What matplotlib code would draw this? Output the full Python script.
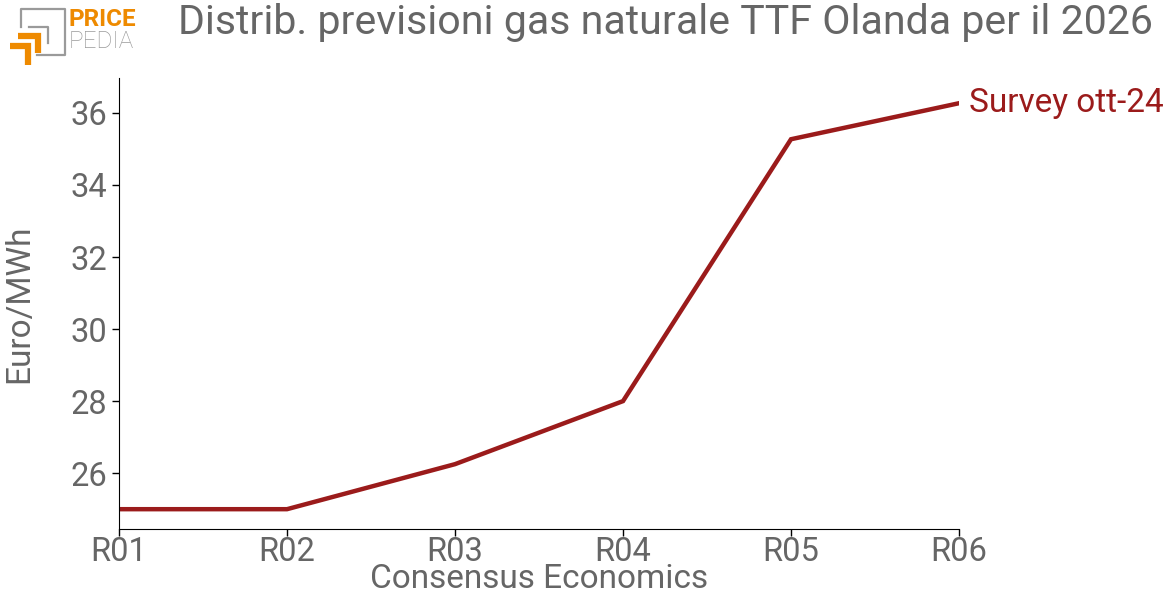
import matplotlib
matplotlib.use("Agg")
import matplotlib.pyplot as plt

# data
rounds = ["R01", "R02", "R03", "R04", "R05", "R06"]
forecast = [25.0, 25.0, 26.25, 28.0, 35.27, 36.27]
series_label = "Survey ott-24"

plt.rcParams["font.family"] = ["Roboto", "DejaVu Sans"]
grey = "#666666"
red = "#9b1b1b"

W, H = 1170, 594
fig = plt.figure(figsize=(W / 100, H / 100), dpi=100)
ax = fig.add_axes([119 / W, 65 / H, 840 / W, 451 / H])

x = list(range(len(rounds)))
ax.plot(x, forecast, color=red, lw=3.2, solid_joinstyle="miter")
ax.text(x[-1] + 0.06, forecast[-1], series_label, color=red, fontsize=24,
        va="center", ha="left", clip_on=False)

ax.set_xlim(0, len(rounds) - 1)
ax.set_ylim(24.45, 36.97)
ax.set_xticks(x)
ax.set_xticklabels(rounds)
ax.set_yticks([26, 28, 30, 32, 34, 36])
ax.tick_params(colors="black", labelcolor=grey, labelsize=23.5, length=5, width=1)
ax.tick_params(axis="x", pad=0)
for side in ("top", "right"):
    ax.spines[side].set_visible(False)
ax.set_xlabel("Consensus Economics", fontsize=24, color=grey)
ax.xaxis.set_label_coords(0.5, -34 / 451)
ax.set_ylabel("Euro/MWh", fontsize=24, color=grey)
ax.yaxis.set_label_coords(-84 / 840, 0.5)

fig.text(666 / W, 1 - 22 / H, "Distrib. previsioni gas naturale TTF Olanda per il 2026",
         fontsize=29.6, color=grey, ha="center", va="center")

# rough PricePedia logo in pixel coordinates
lg = fig.add_axes([0, 0, 1, 1])
lg.set_xlim(0, W)
lg.set_ylim(H, 0)
lg.axis("off")
lc = "#9a9a9a"
lg.plot([21, 21, 65, 65, 37], [27, 9, 9, 55, 55], color=lc, lw=1.6)
lg.plot([29, 48, 48], [27, 27, 43], color=lc, lw=1.6)
orange = "#ee8a00"
lg.plot([18, 38, 38], [35.5, 35.5, 53], color=orange, lw=4.5, solid_capstyle="butt", solid_joinstyle="miter")
lg.plot([10, 28, 28], [45.5, 45.5, 65], color=orange, lw=4.5, solid_capstyle="butt", solid_joinstyle="miter")
lg.text(69, 19, "PRICE", color=orange, fontsize=17.5, fontweight="bold", va="center", ha="left")
lg.text(69, 42, "PEDIA", color="#9a9a9a", fontsize=17.5, fontweight="light", va="center", ha="left")

fig.savefig("out.png", dpi=100)
